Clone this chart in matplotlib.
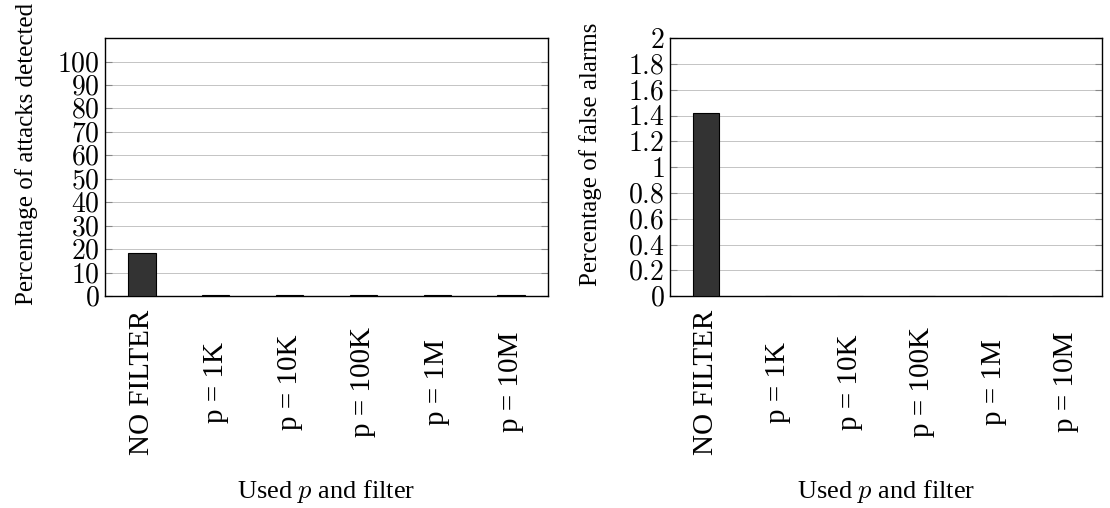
import matplotlib
matplotlib.use("Agg")
import matplotlib.pyplot as plt
import numpy as np

# datos
categorias = ["NO FILTER", "p = 1K", "p = 10K", "p = 100K", "p = 1M", "p = 10M"]
ataques_detectados = [18.3, 0.3, 0.3, 0.3, 0.3, 0.3]
falsas_alarmas = [1.42, 0.0, 0.0, 0.0, 0.0, 0.0]

ticks_ataques = [0, 10, 20, 30, 40, 50, 60, 70, 80, 90, 100]
ticks_alarmas = [0, 0.2, 0.4, 0.6, 0.8, 1, 1.2, 1.4, 1.6, 1.8, 2]

plt.rcParams["font.family"] = ["Liberation Serif", "DejaVu Serif"]
plt.rcParams["mathtext.fontset"] = "cm"


def dibujar_panel(ax, valores, ticks, ymax, etiqueta_y, pos_label_y):

    x = np.arange(len(categorias))

    ax.bar(
        x,
        valores,
        width=0.37,
        color="#333333",
        edgecolor="black",
        linewidth=0.8,
        zorder=3
    )

    ax.set_xlim(-0.5, 5.5)
    ax.set_ylim(0, ymax)

    ax.set_yticks(ticks)
    ax.set_yticklabels(
        ["$%s$" % str(t) for t in ticks],
        fontsize=20
    )

    ax.set_xticks(x)
    ax.set_xticklabels(
        categorias,
        rotation=90,
        fontsize=21,
        va="center"
    )

    ax.tick_params(axis="x", length=0, pad=62)
    ax.tick_params(
        axis="y",
        direction="in",
        length=5,
        color="#888888",
        right=True,
        pad=4
    )

    ax.yaxis.grid(True, color="#c4c4c4", linewidth=0.7, zorder=0)

    for lado in ax.spines.values():
        lado.set_linewidth(1.0)

    ax.set_ylabel(etiqueta_y, fontsize=18)
    ax.yaxis.set_label_coords(pos_label_y, 0.55)

    ax.set_xlabel("Used $p$ and filter", fontsize=19, va="top")
    ax.xaxis.set_label_coords(0.5, -0.705)


fig = plt.figure(figsize=(11.1, 5.08), dpi=100)

ax1 = fig.add_axes([0.0946, 0.417, 0.399, 0.508])
ax2 = fig.add_axes([0.6036, 0.417, 0.389, 0.508])

dibujar_panel(
    ax1,
    ataques_detectados,
    ticks_ataques,
    110,
    "Percentage of attacks detected",
    -0.151
)

dibujar_panel(
    ax2,
    falsas_alarmas,
    ticks_alarmas,
    2,
    "Percentage of false alarms",
    -0.157
)

fig.savefig("out.png", dpi=100)
plt.close(fig)
